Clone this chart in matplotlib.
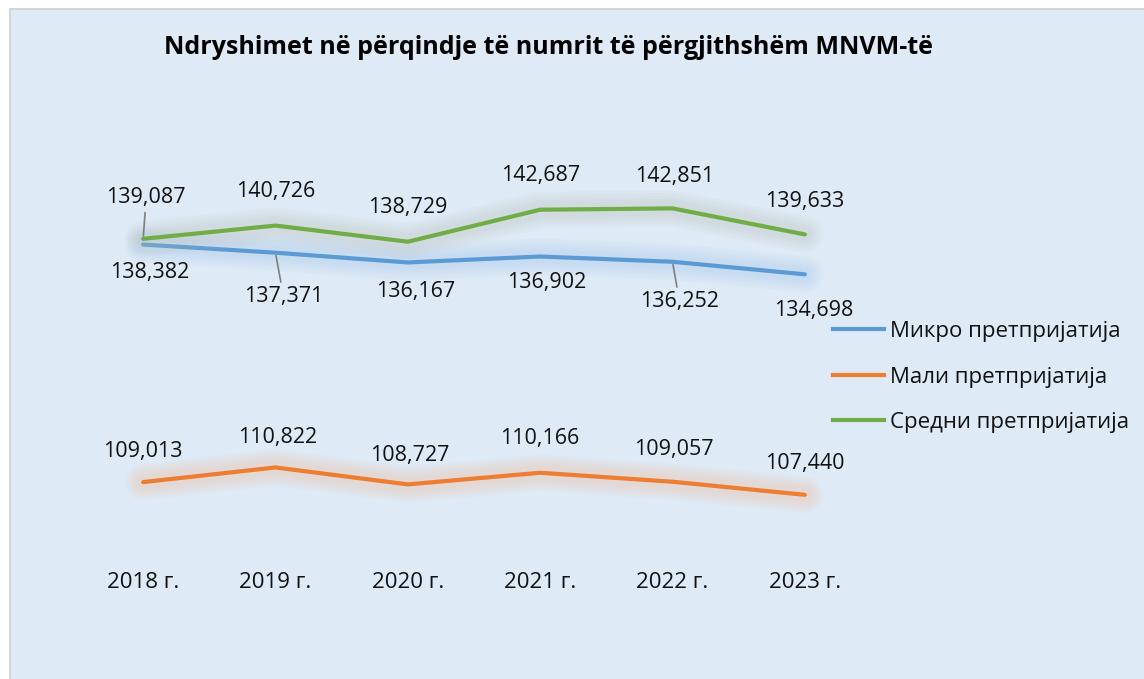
import matplotlib.pyplot as plt
import matplotlib.patheffects as pe
from matplotlib.patches import Rectangle

plt.rcParams['font.family'] = ['Open Sans', 'DejaVu Sans']

years = ['2018 г.', '2019 г.', '2020 г.', '2021 г.', '2022 г.', '2023 г.']
micro = [138382, 137371, 136167, 136902, 136252, 134698]
mali = [109013, 110822, 108727, 110166, 109057, 107440]
sredni = [139087, 140726, 138729, 142687, 142851, 139633]

title = 'Ndryshimet në përqindje të numrit të përgjithshëm MNVM-të'
names = ['Микро претпријатија', 'Мали претпријатија', 'Средни претпријатија']
colors = ['#5B9BD5', '#ED7D31', '#70AD47']
glows = ['#9CC3EA', '#F2B48C', '#B8BDB3']

# label offsets in pixels (dx, dy screen-down), and whether a leader line is drawn
micro_off = [(7, 28, False), (8, 44, True), (8, 29, False), (7, 26, False), (7, 40, True), (9, 36, False)]
mali_off = [(0, -31, False), (2, -30, False), (2, -29, False), (0, -34, False), (1, -32, False), (0, -31, False)]
sredni_off = [(3, -41, True), (0, -34, False), (0, -34, False), (1, -34, False), (2, -32, False), (0, -33, False)]

W, H = 1144, 679
fig = plt.figure(figsize=(W / 100, H / 100), dpi=100)
fig.patch.set_facecolor('white')
fig.patches.append(Rectangle((10 / W, -0.01), 1, 1.01 - 9 / H, transform=fig.transFigure,
                             facecolor='#DEEAF6', edgecolor='#D0D0D0', lw=1.2, zorder=-10))

ax = fig.add_axes([77 / W, (H - 555) / H, 794 / W, 364 / H])
ax.set_zorder(2)
ax.set_facecolor('none')
for s in ax.spines.values():
    s.set_visible(False)

x = list(range(len(years)))


def glow(c):
    fx = [pe.Stroke(linewidth=w, foreground=c, alpha=0.07) for w in (26, 22, 18, 14, 10)]
    return fx + [pe.Normal()]


series = [micro, mali, sredni]
offsets = [micro_off, mali_off, sredni_off]
for vals, name, c, g, offs in zip(series, names, colors, glows, offsets):
    ax.plot(x, vals, color=c, lw=3, solid_capstyle='round', label=name,
            path_effects=glow(g), zorder=3)
    for xi, v, (dx, dy, lead) in zip(x, vals, offs):
        kw = {}
        if lead:
            kw['arrowprops'] = dict(arrowstyle='-', color='#7F7F7F', lw=1.2,
                                    shrinkA=1, shrinkB=2)
        ax.annotate(f'{v:,}', (xi, v), xytext=(dx * 0.72, -dy * 0.72),
                    textcoords='offset points', ha='center', va='center',
                    fontsize=15.5, color='#111111', zorder=5, **kw)

ax.set_xlim(-0.5, 5.5)
ax.set_ylim(100000, 145000)
ax.set_yticks([])
ax.set_xticks(x)
ax.set_xticklabels(years, fontsize=16, color='#111111')
ax.tick_params(axis='x', length=0, pad=12)

fig.text(549 / W, 1 - 48 / H, title, ha='center', va='center',
         fontsize=18, fontweight='bold', color='black')

handles = [plt.Line2D([], [], color=c, lw=3) for c in colors]
fig.legend(handles, names, loc='center left', bbox_to_anchor=(833 / W, 1 - 377 / H),
           frameon=False, fontsize=16, handlelength=2.3, handletextpad=0.25,
           labelspacing=1.1, borderpad=0, borderaxespad=0, labelcolor='#111111')

fig.savefig('out.png', dpi=100, facecolor=fig.get_facecolor())
